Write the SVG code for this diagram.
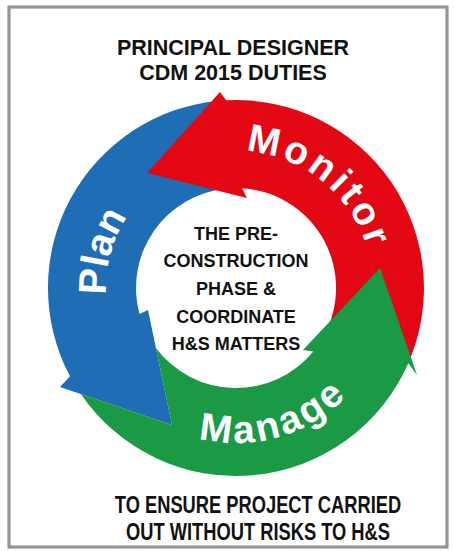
<svg xmlns="http://www.w3.org/2000/svg" width="454" height="551" viewBox="0 0 454 551">
  <style>
    .blk { font-family: "Liberation Sans", Arial, sans-serif; font-weight: bold; fill: #111; text-anchor: middle; }
    .lbl { font-family: "Liberation Sans", Arial, sans-serif; font-weight: bold; fill: #fff; font-size: 39px; }
  </style>
  <defs>
    <path id="arcMonitor" d="M245.6,151.3 A137,137 0 0 1 372.5,276.1"/>
    <path id="arcPlan" d="M106.2,294.8 A130,130 0 0 1 171,175.4"/>
    <path id="arcManage" d="M198.5,438.4 A155,155 0 0 0 370.2,365.5"/>
  </defs>
  <rect x="0" y="0" width="454" height="551" fill="#fff"/>
  <rect id="frame" x="9" y="7" width="438" height="540" fill="none" stroke="#959595" stroke-width="3.2"/>

  <g id="title">
    <text class="blk" x="233" y="55" font-size="21.5">PRINCIPAL DESIGNER</text>
    <text class="blk" x="233" y="80" font-size="21.5">CDM 2015 DUTIES</text>
  </g>

  <g id="node-plan">
    <path fill="#1f6db5" d="M219.6,100.7 A188,188 0 0 0 70,376.3 L60,387 L172,425 L148,310 L139.4,313.9 A100,100 0 0 1 227.3,188.4 Z"/>
    <text class="lbl"><textPath href="#arcPlan">Plan</textPath></text>
  </g>

  <g id="node-monitor">
    <path fill="#e30613" d="M407.7,364.5 A188,188 0 0 0 226.2,100.3 L220,92 L147,173 L247,198 L242.1,188.2 A100,100 0 0 1 327.4,328.7 Z"/>
    <text class="lbl" letter-spacing="3.5"><textPath href="#arcMonitor">Monitor</textPath></text>
  </g>

  <g id="node-manage">
    <path fill="#1a9a44" d="M80.8,394 L172,425 L155.9,347.9 A100,100 0 0 0 313.3,351.5 L303,350 L380,268 L417,375 L408.3,363.3 A188,188 0 0 1 80.8,394 Z"/>
    <text class="lbl" letter-spacing="3"><textPath href="#arcManage">Manage</textPath></text>
  </g>

  <g id="center-text">
    <text class="blk" x="236" y="240" font-size="18">THE PRE-</text>
    <text class="blk" x="236" y="267" font-size="18">CONSTRUCTION</text>
    <text class="blk" x="236" y="295" font-size="18">PHASE &amp;</text>
    <text class="blk" x="236" y="322.5" font-size="18">COORDINATE</text>
    <text class="blk" x="236" y="350" font-size="18">H&amp;S MATTERS</text>
  </g>

  <g id="footer">
    <text class="blk" x="258" y="0" font-size="18.3" transform="translate(0,513) scale(1,1.3)">TO ENSURE PROJECT CARRIED</text>
    <text class="blk" x="258" y="0" font-size="18.3" transform="translate(0,540) scale(1,1.3)">OUT WITHOUT RISKS TO H&amp;S</text>
  </g>
</svg>
